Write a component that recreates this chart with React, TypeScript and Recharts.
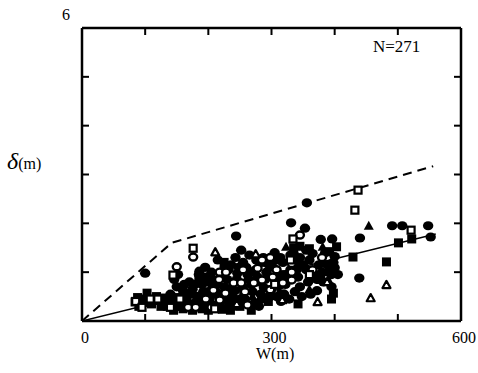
import { Scatter, ScatterChart, XAxis, YAxis } from 'recharts';

type Pt = [number, number];

// x: crest width W (m), y: deflection δ (m)
const xTicks = [0, 100, 200, 300, 400, 500, 600];
const xLabels = [0, 300, 600];
const yTicks = [0, 1, 2, 3, 4, 5, 6];
const yLabels = [6];

const upperEnvelope: Pt[] = [[0, 0], [142, 1.6], [556, 3.17]];
const fitLine: Pt[] = [[0, 0], [560, 1.78]];

const filledCircles: Pt[] = [
  [100, 0.98], [244, 1.74], [356, 2.42], [331, 2.01], [353, 1.9], [396, 1.68], [440, 1.7], [439, 0.88],
  [491, 1.95], [507, 1.95], [548, 1.95], [552, 1.72], [252, 1.45], [378, 1.67], [400, 1.32], [400, 1.09],
  [355, 1.45],
  [146, 0.85], [150, 0.7], [140, 0.55], [160, 0.62], [165, 0.45], [135, 0.42], [155, 0.35], [170, 0.8],
  [148, 0.28], [172, 0.55], [138, 0.3], [158, 0.5], [168, 0.35], [145, 0.45], [162, 0.75], [152, 0.95],
  [178, 0.75], [185, 0.95], [192, 0.6], [200, 0.8], [205, 1.0], [188, 0.4], [198, 0.3], [210, 0.55],
  [182, 0.5], [207, 0.7], [195, 1.1], [175, 0.65], [190, 0.75], [202, 0.45], [196, 0.9], [180, 0.38],
  [208, 0.85], [186, 1.02], [200, 0.6],
  [215, 1.25], [220, 0.9], [225, 0.7], [232, 1.05], [238, 0.5], [245, 0.85], [218, 0.35], [228, 0.45],
  [240, 0.3], [248, 1.1], [243, 1.3], [235, 0.65], [212, 0.6], [222, 0.55], [230, 0.85], [236, 1.15],
  [214, 0.75], [226, 1.1], [242, 0.62], [250, 0.45], [233, 0.35], [246, 0.98],
  [255, 1.2], [262, 0.95], [268, 0.75], [275, 1.05], [283, 0.55], [290, 0.85], [296, 1.15], [258, 0.45],
  [272, 0.35], [287, 1.3], [300, 0.65], [265, 1.35], [280, 0.3], [260, 1.1], [270, 0.6], [278, 0.9],
  [285, 0.45], [292, 1.0], [264, 0.85], [288, 0.68], [276, 1.25], [298, 0.5], [254, 0.7], [268, 1.0],
  [305, 1.4], [310, 0.95], [318, 1.2], [322, 0.75], [330, 1.05], [337, 0.6], [345, 1.3], [308, 0.5],
  [315, 0.4], [328, 0.45], [342, 0.9], [350, 1.15], [312, 0.72], [335, 1.38], [302, 1.1], [314, 1.3],
  [325, 0.9], [338, 1.2], [345, 0.7], [320, 0.55], [330, 1.35], [348, 0.5], [306, 0.85], [340, 1.05],
  [360, 1.25], [368, 0.95], [375, 1.15], [382, 0.8], [390, 1.0], [398, 1.2], [405, 0.95], [372, 0.62],
  [395, 0.7], [385, 1.4], [362, 0.55], [355, 1.05], [365, 1.38], [372, 0.85], [380, 1.0], [388, 1.15],
  [395, 0.95], [358, 0.8],
];

const filledSquares: Pt[] = [
  [429, 1.31], [482, 1.21], [501, 1.6], [522, 1.68], [398, 0.57], [403, 1.52], [277, 0.37], [84, 0.39],
  [103, 0.57], [345, 1.53],
  [90, 0.3], [96, 0.45], [110, 0.35], [118, 0.5], [125, 0.3], [132, 0.4], [160, 0.25], [175, 0.22],
  [190, 0.25], [205, 0.32], [222, 0.24], [238, 0.4], [256, 0.6], [268, 0.22], [282, 0.8], [295, 0.4],
  [305, 1.25], [320, 0.95], [335, 1.5], [342, 0.35], [360, 1.48], [378, 0.85], [395, 0.45], [392, 1.42],
  [225, 1.2], [185, 0.85], [150, 0.48], [100, 0.38], [115, 0.42], [128, 0.47], [88, 0.48], [135, 0.3],
  [145, 0.22], [200, 0.22], [250, 0.3], [315, 0.55], [285, 1.2], [170, 0.35], [235, 0.22],
];

const openSquares: Pt[] = [
  [437, 2.68], [432, 2.27], [521, 1.86], [334, 1.68], [176, 1.49], [144, 0.94], [108, 0.45], [120, 0.45],
  [85, 0.4], [95, 0.28], [140, 0.28], [155, 0.45], [210, 0.25], [330, 1.25], [305, 0.75], [360, 0.95],
];

const openCircles: Pt[] = [
  [150, 1.11], [176, 1.31], [345, 1.76], [218, 1.0], [228, 1.0], [255, 1.05], [196, 0.45], [217, 0.85],
  [208, 0.63], [240, 0.78], [252, 0.78], [227, 0.57], [258, 0.6], [218, 0.43], [205, 0.28], [262, 0.33],
  [285, 1.25], [298, 1.3], [278, 1.08], [302, 0.9], [332, 1.18], [332, 1.0], [332, 0.84], [272, 0.78],
  [285, 0.84], [308, 1.05], [318, 0.78], [298, 0.64], [168, 0.28], [180, 0.28], [365, 1.05], [380, 1.3],
];

const filledTriangles: Pt[] = [
  [454, 1.95], [381, 1.52], [293, 0.53], [323, 1.52], [230, 0.3], [360, 0.65], [270, 0.5], [390, 0.85],
];

const openTriangles: Pt[] = [
  [211, 1.41], [275, 1.37], [482, 0.74], [457, 0.47], [373, 0.39], [317, 0.43], [388, 0.8], [245, 0.35],
];

const rows = (pts: Pt[]) => pts.map(([w, d]) => ({ w, d }));

const INK = '#000';
const FONT = "'Liberation Serif', 'Times New Roman', serif";

const FilledCircle = (p: any) => <ellipse cx={p.cx} cy={p.cy} rx={5.2} ry={4.6} fill={INK} />;
const OpenCircle = (p: any) => (
  <ellipse cx={p.cx} cy={p.cy} rx={4} ry={3.5} fill="#fff" stroke={INK} strokeWidth={2.4} />
);
const FilledSquare = (p: any) => <rect x={p.cx - 4.5} y={p.cy - 4.5} width={9} height={9} fill={INK} />;
const OpenSquare = (p: any) => (
  <rect x={p.cx - 3.5} y={p.cy - 3.5} width={7} height={7} fill="#fff" stroke={INK} strokeWidth={2.2} />
);
const triPoints = (cx: number, cy: number, s: number) =>
  `${cx},${cy - s} ${cx + s},${cy + s * 0.8} ${cx - s},${cy + s * 0.8}`;
const FilledTriangle = (p: any) => <polygon points={triPoints(p.cx, p.cy, 5)} fill={INK} />;
const OpenTriangle = (p: any) => (
  <polygon points={triPoints(p.cx, p.cy, 4)} fill="#fff" stroke={INK} strokeWidth={2.2} strokeLinejoin="round" />
);
const NoDot = () => <g />;

function BottomTick({ x, y, payload }: any) {
  const v = payload.value;
  return (
    <g>
      {v > 0 && v < 600 && <line x1={x} x2={x} y1={y} y2={y - 7} stroke={INK} strokeWidth={2} />}
      {xLabels.includes(v) && (
        <text x={x + 3} y={y + 22} textAnchor="middle" fontFamily={FONT} fontSize={16} fill={INK}>
          {v}
        </text>
      )}
    </g>
  );
}

function TopTick({ x, y, payload }: any) {
  const v = payload.value;
  if (v <= 0 || v >= 600) return <g />;
  return <line x1={x} x2={x} y1={y} y2={y + 7} stroke={INK} strokeWidth={2} />;
}

function LeftTick({ x, y, payload }: any) {
  const v = payload.value;
  return (
    <g>
      {v > 0 && v < 6 && <line x1={x} x2={x + 7} y1={y} y2={y} stroke={INK} strokeWidth={2} />}
      {yLabels.includes(v) && (
        <text x={x - 16} y={y - 8} textAnchor="middle" fontFamily={FONT} fontSize={16} fill={INK}>
          {v}
        </text>
      )}
    </g>
  );
}

function RightTick({ x, y, payload }: any) {
  const v = payload.value;
  if (v <= 0 || v >= 6) return <g />;
  return <line x1={x} x2={x - 7} y1={y} y2={y} stroke={INK} strokeWidth={2} />;
}

const axisLine = { stroke: INK, strokeWidth: 2.5 };

export default function App() {
  return (
    <div style={{ position: 'absolute', left: 0, top: 0, width: 478, height: 373, background: '#fff' }}>
      <ScatterChart width={478} height={373} margin={{ top: 18, right: 7, bottom: 12, left: 42 }}>
        <XAxis
          type="number"
          dataKey="w"
          domain={[0, 600]}
          ticks={xTicks}
          height={40}
          tickSize={0}
          tickMargin={0}
          tickLine={false}
          axisLine={axisLine}
          tick={<BottomTick />}
          interval={0}
          allowDataOverflow
        />
        <XAxis
          xAxisId="top"
          orientation="top"
          type="number"
          dataKey="w"
          domain={[0, 600]}
          ticks={xTicks}
          height={10}
          tickSize={0}
          tickMargin={0}
          tickLine={false}
          axisLine={axisLine}
          tick={<TopTick />}
          interval={0}
        />
        <YAxis
          type="number"
          dataKey="d"
          domain={[0, 6]}
          ticks={yTicks}
          width={40}
          tickSize={0}
          tickMargin={0}
          tickLine={false}
          axisLine={axisLine}
          tick={<LeftTick />}
          interval={0}
          allowDataOverflow
        />
        <YAxis
          yAxisId="right"
          orientation="right"
          type="number"
          dataKey="d"
          domain={[0, 6]}
          ticks={yTicks}
          width={10}
          tickSize={0}
          tickMargin={0}
          tickLine={false}
          axisLine={axisLine}
          tick={<RightTick />}
          interval={0}
        />
        <Scatter
          data={rows(upperEnvelope)}
          line={{ stroke: INK, strokeWidth: 2, strokeDasharray: '9 6' }}
          shape={NoDot}
          isAnimationActive={false}
        />
        <Scatter
          data={rows(fitLine)}
          line={{ stroke: INK, strokeWidth: 1.5 }}
          shape={NoDot}
          isAnimationActive={false}
        />
        <Scatter data={rows(filledCircles)} shape={FilledCircle} isAnimationActive={false} />
        <Scatter data={rows(filledSquares)} shape={FilledSquare} isAnimationActive={false} />
        <Scatter data={rows(filledTriangles)} shape={FilledTriangle} isAnimationActive={false} />
        <Scatter data={rows(openCircles)} shape={OpenCircle} isAnimationActive={false} />
        <Scatter data={rows(openSquares)} shape={OpenSquare} isAnimationActive={false} />
        <Scatter data={rows(openTriangles)} shape={OpenTriangle} isAnimationActive={false} />
        <Scatter
          xAxisId="top"
          yAxisId="right"
          data={rows(fitLine)}
          shape={NoDot}
          isAnimationActive={false}
        />
      </ScatterChart>
      <div style={{ position: 'absolute', left: 7, top: 148, fontFamily: FONT, color: INK, whiteSpace: 'nowrap' }}>
        <span style={{ fontSize: 24, fontStyle: 'italic' }}>δ</span>
        <span style={{ fontSize: 16 }}>(m)</span>
      </div>
      <div style={{ position: 'absolute', left: 256, top: 345, fontFamily: FONT, fontSize: 16, color: INK }}>
        W(m)
      </div>
      <div style={{ position: 'absolute', left: 373, top: 37, fontFamily: FONT, fontSize: 17, color: INK }}>
        N=271
      </div>
    </div>
  );
}
